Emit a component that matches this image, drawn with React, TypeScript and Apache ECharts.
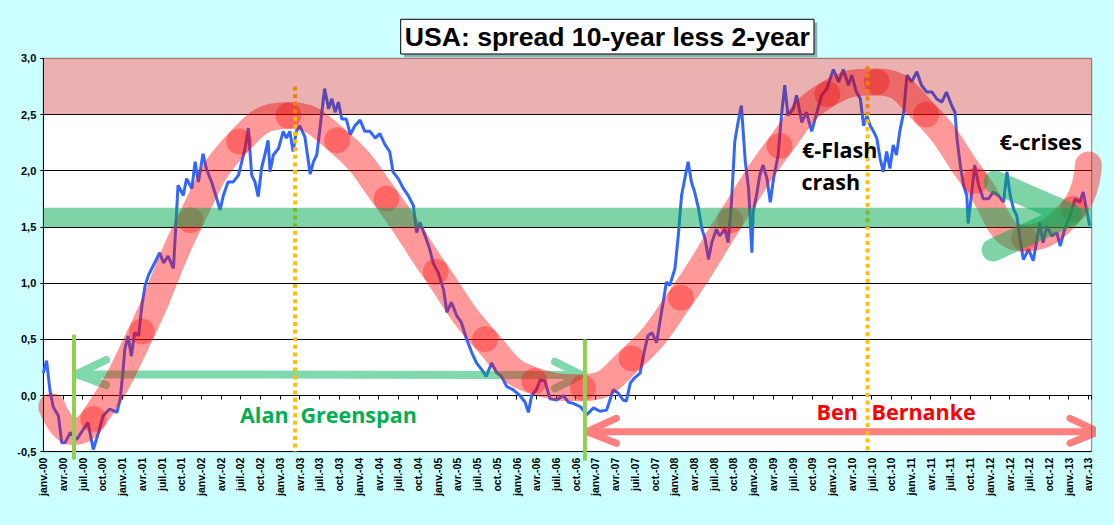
import { useEffect, useRef } from 'react'
import * as echarts from 'echarts'

// x = months since janv. 2000, y = spread in %
const quarterNames = ['janv.', 'avr.', 'juil.', 'oct.']

const spread: [number, number][] = [
  [0, 0.2], [0.5, 0.31], [1.0, 0.05], [1.5, -0.1], [2.3, -0.18], [2.8, -0.42], [3.3, -0.42], [4.1, -0.33],
  [5.1, -0.39], [6.1, -0.3], [6.8, -0.24], [7.6, -0.48], [8.4, -0.33], [9.1, -0.18], [10.1, -0.12], [11.2, -0.15],
  [11.7, -0.03], [12.1, 0.2], [12.4, 0.41], [12.9, 0.53], [13.4, 0.35], [13.9, 0.56], [14.5, 0.53], [15.0, 0.8],
  [15.5, 0.98], [16.0, 1.07], [16.5, 1.13], [17.2, 1.21], [17.7, 1.27], [18.3, 1.18], [19.0, 1.24], [19.8, 1.13],
  [20.3, 1.66], [20.5, 1.87], [21.3, 1.78], [21.8, 1.93], [22.6, 1.84], [23.1, 2.08], [23.6, 1.9], [24.3, 2.15],
  [24.8, 2.02], [25.6, 1.9], [26.4, 1.75], [26.9, 1.65], [27.4, 1.78], [28.1, 1.9], [28.9, 1.9], [29.7, 1.96],
  [30.2, 2.08], [30.7, 2.2], [31.2, 2.38], [31.7, 1.96], [32.2, 1.9], [32.7, 1.77], [33.2, 2.02], [33.7, 2.14],
  [34.2, 2.27], [34.5, 1.99], [35.0, 2.14], [35.8, 2.2], [36.5, 2.35], [37.0, 2.29], [37.5, 2.35], [38.0, 2.17],
  [38.5, 2.35], [39.0, 2.4], [39.8, 2.3], [40.6, 1.97], [41.1, 2.08], [41.6, 2.14], [42.1, 2.38], [42.8, 2.73],
  [43.4, 2.55], [43.9, 2.64], [44.4, 2.52], [44.9, 2.61], [45.4, 2.46], [46.1, 2.46], [46.7, 2.32], [47.4, 2.4],
  [48.2, 2.45], [48.9, 2.35], [49.7, 2.35], [50.5, 2.29], [51.2, 2.33], [52.0, 2.23], [52.7, 2.17], [53.2, 1.99],
  [54.0, 1.93], [54.8, 1.84], [55.5, 1.78], [56.3, 1.69], [56.8, 1.45], [57.3, 1.54], [58.1, 1.42], [58.8, 1.3],
  [59.3, 1.18], [60.1, 1.09], [60.9, 0.94], [61.4, 0.74], [62.1, 0.83], [62.9, 0.71], [63.6, 0.65], [64.4, 0.5],
  [65.2, 0.38], [65.9, 0.29], [66.7, 0.23], [67.4, 0.17], [68.2, 0.29], [69.0, 0.2], [69.7, 0.17], [70.5, 0.08],
  [71.5, 0.05], [72.5, 0.0], [73.3, -0.06], [73.8, -0.15], [74.3, 0.0], [75.0, 0.05], [75.6, 0.14], [76.3, 0.13],
  [77.1, -0.03], [78.1, -0.04], [79.1, 0.0], [79.9, -0.06], [80.6, -0.07], [81.7, -0.1], [82.7, -0.17], [83.7, -0.11],
  [84.7, -0.14], [85.7, -0.13], [86.2, -0.04], [86.7, 0.05], [87.5, 0.02], [88.2, -0.04], [88.7, -0.05], [89.3, 0.11],
  [90.0, 0.16], [90.8, 0.2], [91.5, 0.41], [92.0, 0.53], [92.6, 0.56], [93.3, 0.47], [93.8, 0.65], [94.3, 0.83],
  [94.8, 1.01], [95.3, 0.98], [96.1, 1.13], [96.6, 1.42], [97.1, 1.78], [97.6, 1.93], [98.1, 2.08], [98.6, 1.9],
  [99.1, 1.81], [99.7, 1.66], [100.2, 1.48], [100.7, 1.39], [101.2, 1.21], [101.7, 1.36], [102.4, 1.48], [102.9, 1.42],
  [103.7, 1.48], [104.2, 1.36], [104.7, 1.72], [105.2, 2.26], [105.7, 2.43], [106.2, 2.58], [106.8, 2.08], [107.3, 1.84],
  [107.8, 1.27], [108.0, 1.63], [108.5, 1.78], [109.0, 1.96], [109.5, 2.05], [110.1, 1.93], [110.6, 1.72], [111.1, 1.93],
  [111.8, 2.14], [112.3, 2.49], [112.8, 2.76], [113.3, 2.49], [114.1, 2.55], [114.6, 2.67], [115.4, 2.43], [116.1, 2.52],
  [116.9, 2.35], [117.7, 2.52], [118.4, 2.67], [119.2, 2.73], [120.2, 2.9], [121.0, 2.79], [121.7, 2.9], [122.5, 2.76],
  [123.0, 2.85], [123.7, 2.7], [124.3, 2.64], [124.8, 2.4], [125.3, 2.49], [125.8, 2.4], [126.3, 2.35], [126.8, 2.29],
  [127.3, 2.11], [127.8, 1.99], [128.3, 2.17], [128.8, 2.02], [129.3, 2.23], [129.8, 2.14], [130.3, 2.35], [130.9, 2.52],
  [131.4, 2.85], [132.1, 2.79], [132.9, 2.88], [133.6, 2.76], [134.4, 2.7], [135.2, 2.7], [135.9, 2.64], [136.7, 2.61],
  [137.4, 2.7], [138.2, 2.58], [138.7, 2.52], [139.0, 2.29], [139.5, 2.05], [140.0, 1.87], [140.5, 1.78], [140.7, 1.53],
  [141.2, 1.78], [141.7, 2.05], [142.3, 1.87], [143.0, 1.75], [143.8, 1.75], [144.5, 1.81], [145.3, 1.78], [146.1, 1.72],
  [146.6, 1.99], [147.1, 1.78], [147.6, 1.66], [148.1, 1.6], [148.6, 1.39], [149.1, 1.21], [149.9, 1.3], [150.6, 1.2],
  [151.1, 1.36], [151.6, 1.54], [152.1, 1.36], [152.7, 1.51], [153.4, 1.42], [154.2, 1.45], [154.7, 1.33], [155.4, 1.48],
  [156.2, 1.6], [157.0, 1.75], [157.7, 1.72], [158.2, 1.81], [158.7, 1.66], [159.2, 1.51],
]

// the hand-drawn "cycle" curve and its dots
const cycleCurve: [number, number][] = [
  [1.3, -0.1], [4.5, -0.32], [7.6, -0.21], [15.0, 0.57], [22.4, 1.56], [29.8, 2.26], [37.3, 2.49],
  [44.7, 2.27], [52.2, 1.75], [59.7, 1.1], [67.2, 0.5], [74.7, 0.13], [82.1, 0.07], [89.5, 0.33],
  [97.0, 0.87], [104.5, 1.56], [112.0, 2.22], [119.3, 2.68], [126.8, 2.79], [134.3, 2.5], [141.8, 1.91],
  [149.2, 1.4], [156.7, 1.66], [159.0, 2.05],
]
const cycleDots: [number, number][] = cycleCurve.slice(2, 23)

const X_MAX = 159.5

const annot = (data: number[][], color: string, width: number, z: number, type: any = 'solid', cap = 'round') => ({
  type: 'line',
  data,
  z,
  symbol: 'none',
  silent: true,
  clip: false,
  animation: false,
  lineStyle: { color, width, type, cap, join: 'round' },
})

const txt = (text: string, x: number, y: number, color: string, size: number) => ({
  type: 'text',
  x,
  y,
  z: 110,
  silent: true,
  style: {
    text,
    fill: color,
    font: `bold ${size}px "Open Sans", "Noto Sans", sans-serif`,
    align: 'left',
    verticalAlign: 'middle',
    textAlign: 'left',
    textVerticalAlign: 'middle',
  },
})

export default function App() {
  const ref = useRef<HTMLDivElement>(null)

  useEffect(() => {
    if (!ref.current) return
    const chart = echarts.init(ref.current, undefined, { renderer: 'svg' })

    const green = 'rgba(0,170,80,0.5)'

    chart.setOption({
      animation: false,
      backgroundColor: '#CCFFFF',
      grid: {
        left: 43.3,
        top: 58.3,
        width: 1048.4,
        height: 393.4,
        show: true,
        backgroundColor: '#FFFFFF',
        borderColor: '#808080',
        borderWidth: 1,
      },
      xAxis: {
        type: 'value',
        min: 0,
        max: X_MAX,
        interval: 3,
        axisLine: { show: true, lineStyle: { color: '#000', width: 1 } },
        axisTick: { show: true, length: 4, lineStyle: { color: '#000' } },
        splitLine: { show: false },
        axisLabel: {
          rotate: 90,
          margin: 6,
          color: '#000',
          fontFamily: '"Liberation Sans", Arial, sans-serif',
          fontWeight: 'bold',
          fontSize: 10.5,
          formatter: (v: number) => {
            if (v % 3 !== 0) return ''
            const yy = String(Math.floor(v / 12)).padStart(2, '0')
            return `${quarterNames[(v % 12) / 3]}-${yy}`
          },
        },
      },
      yAxis: {
        type: 'value',
        min: -0.5,
        max: 3,
        interval: 0.5,
        axisLine: { show: true, lineStyle: { color: '#000', width: 1 } },
        axisTick: { show: true, length: 3, lineStyle: { color: '#000' } },
        splitLine: { show: true, showMaxLine: false, lineStyle: { color: '#000', width: 1 } },
        axisLabel: {
          margin: 7,
          color: '#000',
          fontFamily: '"Liberation Sans", Arial, sans-serif',
          fontWeight: 'bold',
          fontSize: 11,
          formatter: (v: number) => v.toFixed(1).replace('.', ','),
        },
      },
      series: [
        {
          type: 'line',
          data: spread,
          z: 2,
          symbol: 'none',
          silent: true,
          lineStyle: { color: '#3366FF', width: 3 },
          markArea: {
            z: 7,
            silent: true,
            data: [
              [{ yAxis: 1.5, itemStyle: { color: green } }, { yAxis: 1.67 }],
              [{ yAxis: 2.5, itemStyle: { color: 'rgba(192,0,0,0.31)' } }, { yAxis: 3 }],
            ],
          },
        },
        // Greenspan / Bernanke arrows
        annot(
          [[9.54, 0.316], [5.08, 0.19], [9.54, 0.093], [5.08, 0.19], [81.9, 0.182], [77.85, 0.3], [81.9, 0.182], [77.85, 0.064]],
          'rgba(0,180,90,0.5)', 8, 3,
        ),
        annot(
          [[87.2, -0.203], [82.67, -0.322], [87.2, -0.425], [82.67, -0.322], [160.5, -0.322], [156.2, -0.203], [160.5, -0.322], [156.2, -0.425]],
          'rgba(255,0,0,0.5)', 7, 3,
        ),
        {
          type: 'line',
          data: cycleCurve,
          z: 4,
          smooth: 0.5,
          symbol: 'none',
          silent: true,
          lineStyle: { color: 'rgba(255,0,0,0.4)', width: 27, cap: 'round', join: 'round' },
        },
        {
          type: 'scatter',
          data: cycleDots,
          z: 5,
          symbol: 'circle',
          symbolSize: 26,
          silent: true,
          itemStyle: { color: 'rgba(255,0,0,0.4)' },
        },
        annot([[38.3, 2.75], [38.3, -0.5]], '#FFC000', 4, 6, [4, 3.6], 'butt'),
        annot([[125.4, 2.93], [125.4, -0.5]], '#FFC000', 4, 6, [4, 3.6], 'butt'),
        annot([[4.67, 0.54], [4.67, -0.57]], '#92D050', 4, 6, 'solid', 'butt'),
        annot([[82.4, 0.5], [82.4, -0.58]], '#92D050', 4, 6, 'solid', 'butt'),
        annot([[144.8, 1.9], [156.2, 1.61], [144.5, 1.295]], green, 23, 7),
      ],
      graphic: [
        { type: 'rect', z: 100, silent: true, shape: { x: 404, y: 22.5, width: 413.3, height: 34.7 }, style: { fill: 'rgba(0,0,0,0.3)' } },
        { type: 'rect', z: 101, silent: true, shape: { x: 400.7, y: 19.3, width: 413.3, height: 34.7 }, style: { fill: '#fff', stroke: '#000', lineWidth: 1 } },
        {
          type: 'text',
          x: 607.4,
          y: 36.5,
          z: 102,
          silent: true,
          style: {
            text: 'USA: spread 10-year less 2-year',
            fill: '#000',
            font: 'bold 26.6px "Liberation Sans", Arial, sans-serif',
            align: 'center',
            verticalAlign: 'middle',
            textAlign: 'center',
            textVerticalAlign: 'middle',
          },
        },
        txt('Alan', 240, 414.5, '#00B050', 21.5),
        txt('Greenspan', 300.5, 414.5, '#00B050', 21.5),
        txt('Ben', 816.5, 411.5, '#FF0000', 21.5),
        txt('Bernanke', 871.5, 411.5, '#FF0000', 21.5),
        txt('€-Flash', 802, 149.5, '#000', 21.5),
        txt('crash', 801.5, 181.8, '#000', 21.5),
        txt('€-crises', 999.5, 141.2, '#000', 22),
      ],
    })

    return () => {
      chart.dispose()
    }
  }, [])

  return <div ref={ref} style={{ position: 'fixed', left: 0, top: 0, width: 1114, height: 525 }} />
}
